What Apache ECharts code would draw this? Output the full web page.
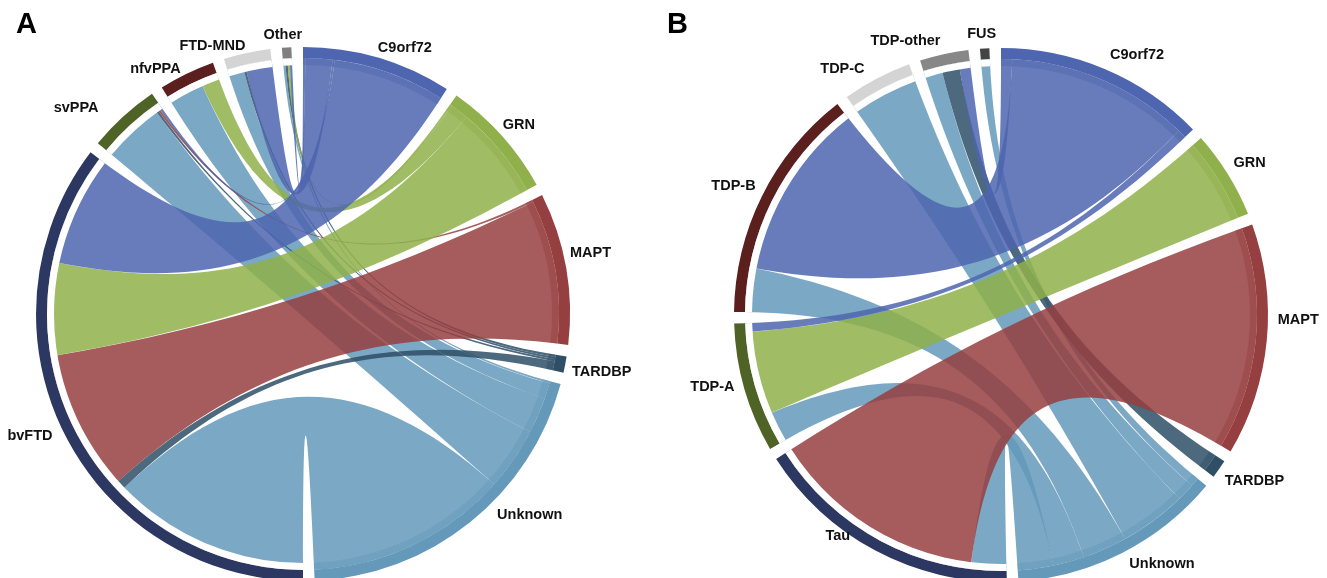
<!DOCTYPE html>
<html><head><meta charset="utf-8">
<script src="https://cdn.jsdelivr.net/npm/echarts@6/dist/echarts.min.js"></script>
<style>html,body{margin:0;padding:0;background:#fff}#c{width:1327px;height:578px}</style>
</head><body><div id="c"></div>
<script>
// ---------- Panel A: gene vs clinical phenotype ----------
const genes = ['C9orf72', 'GRN', 'MAPT', 'TARDBP', 'Unknown'];
const phenotypes = ['bvFTD', 'svPPA', 'nfvPPA', 'FTD-MND', 'Other'];
// values per gene, in phenotype order
const c9orf72A = [50, 1, 0, 12, 1];
const grnA = [42, 0, 8, 0, 1];
const maptA = [64, 1, 0, 0, 0];
const tardbpA = [4, 1, 0, 1, 1];
const unknownA = [90, 28, 16, 7, 1];

// ---------- Panel B: gene vs pathology ----------
const pathology = ['Tau', 'TDP-A', 'TDP-B', 'TDP-C', 'TDP-other', 'FUS'];
const c9orf72B = [0, 4, 82, 0, 5, 0];
const grnB = [0, 38, 0, 0, 0, 0];
const maptB = [100, 0, 0, 0, 0, 0];
const tardbpB = [0, 0, 0, 0, 8, 0];
const unknownB = [16, 14, 20, 30, 8, 4];

// ---------- styles ----------
const geneColors = ['#4E65AF', '#8FB04A', '#963F40', '#2E4F66', '#6499BA'];
const phenoColors = ['#2C3862', '#4F6326', '#5B1F1E', '#D4D4D4', '#7F7F7F'];
const pathColors = ['#2C3862', '#4F6326', '#5B1F1E', '#D4D4D4', '#878787', '#444444'];
const labelOffsetA = {
  'C9orf72': [-2, 4], 'GRN': [-4, 2], 'MAPT': [-3, -6], 'TARDBP': [0, -1], 'Unknown': [23, -20],
  'bvFTD': [-5, -7], 'svPPA': [-20, 4], 'nfvPPA': [-3, 9], 'FTD-MND': [0, 7], 'Other': [16, 2]
};
const labelOffsetB = {
  'C9orf72': [2, 0], 'GRN': [0, 0], 'MAPT': [4, -29], 'TARDBP': [0, 0], 'Unknown': [4, -3],
  'Tau': [-22, -28], 'TDP-A': [-3, -11], 'TDP-B': [0, 0], 'TDP-C': [-9, 4], 'TDP-other': [-2, 1], 'FUS': [12, 0]
};
const font = 'Liberation Sans, Arial, Helvetica, sans-serif';

function buildNodes(groupA, colorsA, groupB, colorsB) {
  return groupA.map((n, i) => ({ name: n, itemStyle: { color: colorsA[i] } }))
    .concat(groupB.map((n, i) => ({ name: n, itemStyle: { color: colorsB[i] } })));
}
// inner band: translucent gene colour, white gap for the group side
function buildBandNodes(groupA, colorsA, groupB) {
  return groupA.map((n, i) => ({ name: n, itemStyle: { color: colorsA[i], opacity: 0.45 } }))
    .concat(groupB.map(n => ({ name: n, itemStyle: { color: '#ffffff', opacity: 1 } })));
}
function buildLinks(rowNames, colNames, matrix) {
  const links = [];
  rowNames.forEach((g, gi) => colNames.forEach((p, pi) => {
    const v = matrix[gi][pi];
    if (v > 0) links.push({ source: g, target: p, value: v, k: gi + pi });
  }));
  links.sort((a, b) => b.k - a.k);
  return links.map(l => ({ source: l.source, target: l.target, value: l.value }));
}

function chordSeries(center, nodes, links, offsets) {
  return {
    type: 'chord',
    z: 2,
    center: center,
    radius: [256, 267],
    startAngle: 90,
    clockwise: true,
    padAngle: 2.5,
    itemStyle: { borderRadius: 0, borderWidth: 0 },
    lineStyle: { color: 'source', opacity: 0.85 },
    label: { show: true, position: 'outside', distance: 7, fontSize: 14.5, fontWeight: 'bold', color: '#111', fontFamily: font },
    labelLayout: function (params) {
      const o = offsets[params.text] || [0, 0];
      return { dx: o[0], dy: o[1] };
    },
    emphasis: { disabled: true },
    data: nodes,
    links: links
  };
}
function bandSeries(center, nodes, links) {
  return {
    type: 'chord',
    z: 3,
    silent: true,
    center: center,
    radius: [249, 256],
    startAngle: 90,
    clockwise: true,
    padAngle: 2.5,
    itemStyle: { borderRadius: 0, borderWidth: 0 },
    lineStyle: { color: 'source', opacity: 0 },
    label: { show: false },
    emphasis: { disabled: true },
    data: nodes,
    links: links
  };
}

const linksA = buildLinks(genes, phenotypes, [c9orf72A, grnA, maptA, tardbpA, unknownA]);
const linksB = buildLinks(genes, pathology, [c9orf72B, grnB, maptB, tardbpB, unknownB]);

const chart = echarts.init(document.getElementById('c'), null, { renderer: 'canvas' });
chart.setOption({
  backgroundColor: '#fff',
  animation: false,
  graphic: [
    { type: 'text', left: 16, top: 10, style: { text: 'A', fontSize: 29, fontWeight: 'bold', fill: '#000', fontFamily: font } },
    { type: 'text', left: 667, top: 10, style: { text: 'B', fontSize: 29, fontWeight: 'bold', fill: '#000', fontFamily: font } }
  ],
  series: [
    chordSeries([303, 314], buildNodes(genes, geneColors, phenotypes, phenoColors), linksA, labelOffsetA),
    bandSeries([303, 314], buildBandNodes(genes, geneColors, phenotypes), linksA),
    chordSeries([1001, 315], buildNodes(genes, geneColors, pathology, pathColors), linksB, labelOffsetB),
    bandSeries([1001, 315], buildBandNodes(genes, geneColors, pathology), linksB)
  ]
});
</script></body></html>
